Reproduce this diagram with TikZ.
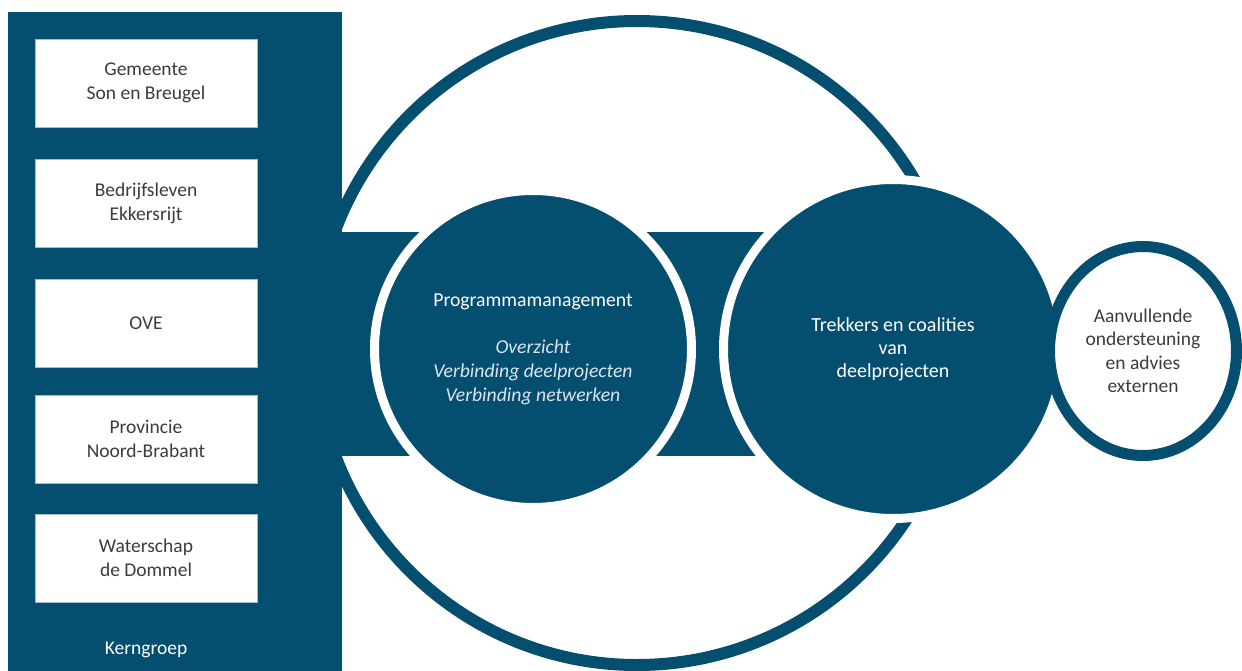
\documentclass[tikz,border=0pt]{standalone}
\usepackage{fontspec}
\setmainfont{Carlito}
\usetikzlibrary{shapes.geometric}
\definecolor{kblue}{RGB}{4,78,112}
\definecolor{ktext}{RGB}{60,60,60}
\definecolor{kital}{RGB}{220,228,235}
\definecolor{kedge}{RGB}{165,188,204}
\newcommand{\kitl}[1]{{\itshape\color{kital}#1}}
\begin{document}
\begin{tikzpicture}[x=1pt,y=-1pt,
  member/.style={draw=kedge, line width=0.8pt, fill=white, minimum width=222pt,
    minimum height=88pt, inner sep=0pt, align=center, text=ktext,
    font=\fontsize{19.5}{24}\selectfont},
  bigdisc/.style={circle, fill=kblue, draw=white, line width=9pt, inner sep=0pt,
    align=center, text=white},
]
\useasboundingbox (0,0) rectangle (1242,670);
% large ring
\node (ring) [circle, draw=kblue, line width=12pt, minimum size=644pt, inner sep=0pt] at (637,343) {};
% Kerngroep panel
\fill[kblue] (8,12) rectangle (342,672);
\node (kern) [text=white, font=\fontsize{19.5}{24}\selectfont] at (146,650) {Kerngroep};
% band
\fill[kblue] (340,232) rectangle (780,456);
% member boxes
\node (m1) [member] at (146,83)  {Gemeente\\Son en Breugel};
\node (m2) [member] at (146,203) {Bedrijfsleven\\Ekkersrijt};
\node (m3) [member] at (146,323) {OVE};
\node (m4) [member] at (146,439) {Provincie\\Noord-Brabant};
\node (m5) [member] at (146,558) {Waterschap\\de Dommel};
% circles
\node (pm) [bigdisc, minimum size=317pt, font=\fontsize{19.7}{24}\selectfont] at (533,349)
  {Programmamanagement\\[23pt]\kitl{Overzicht}\\\kitl{Verbinding deelprojecten}\\\kitl{Verbinding netwerken}};
\node (tr) [bigdisc, minimum size=339pt, font=\fontsize{20}{23}\selectfont] at (893,349)
  {Trekkers en coalities\\van\\deelprojecten};
\node (ext) [ellipse, fill=white, draw=kblue, line width=11pt, minimum width=187pt,
  minimum height=209pt, inner sep=0pt, align=center, text=ktext,
  font=\fontsize{19.5}{23.5}\selectfont] at (1143,351)
  {Aanvullende\\ondersteuning\\en advies\\externen};
\end{tikzpicture}
\end{document}
